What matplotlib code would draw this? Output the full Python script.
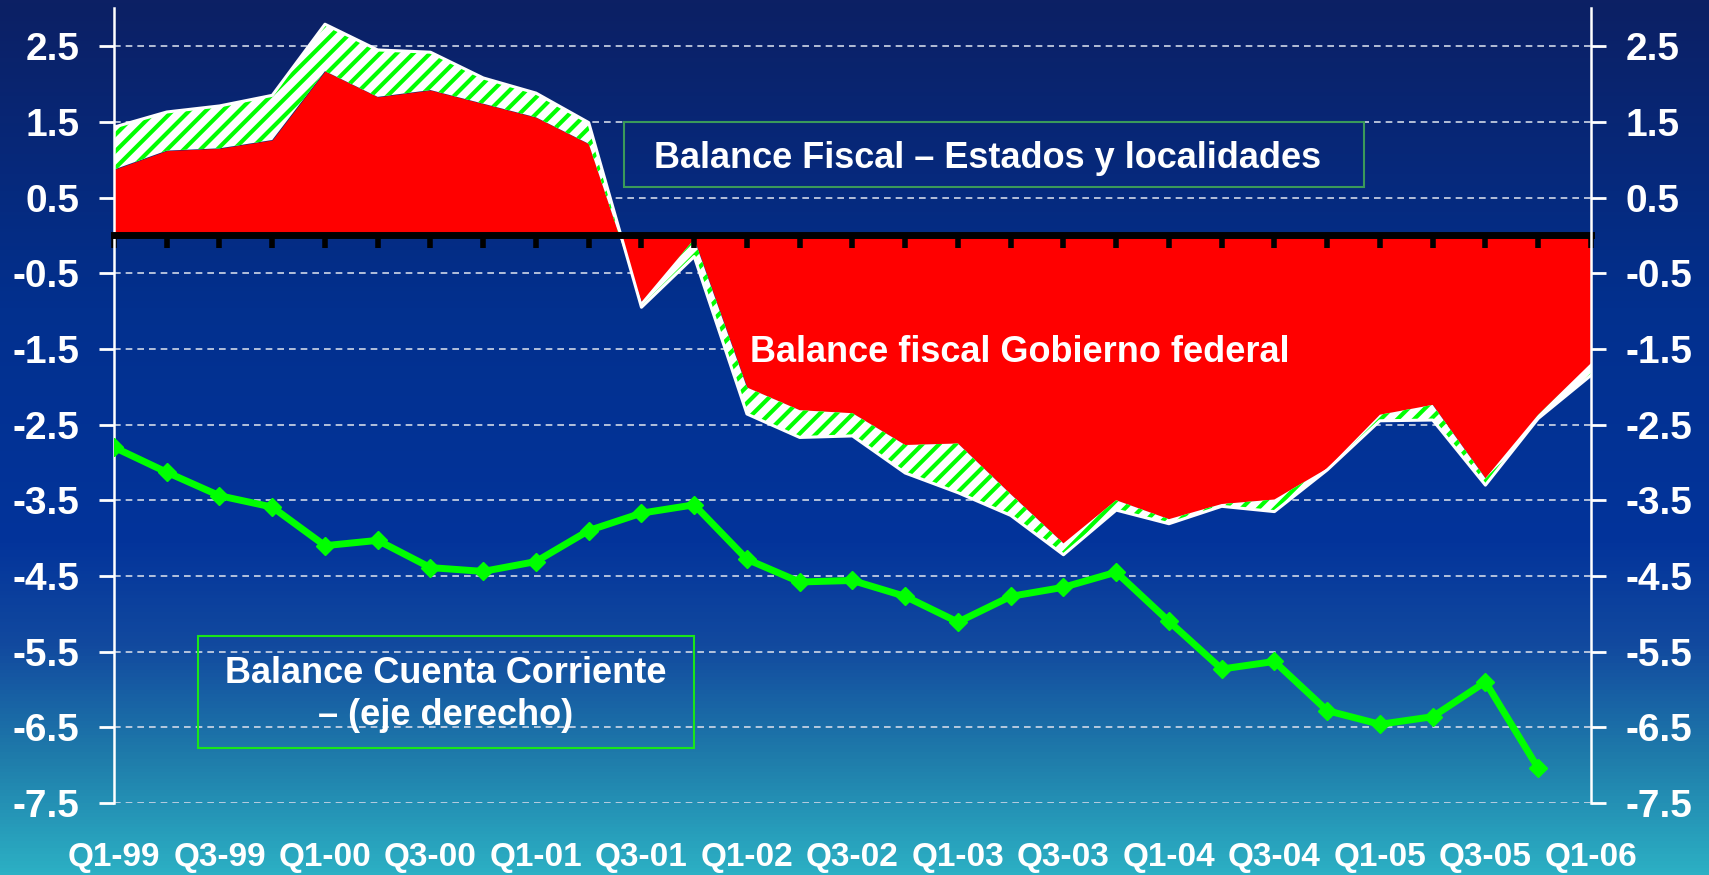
import numpy as np
import matplotlib
matplotlib.use("Agg")
import matplotlib.pyplot as plt
from matplotlib.colors import LinearSegmentedColormap
from matplotlib.patches import Rectangle

plt.rcParams['font.family'] = ['Liberation Sans', 'DejaVu Sans']
plt.rcParams['font.weight'] = 'bold'
plt.rcParams['hatch.linewidth'] = 3.0

# quarters Q1-99 .. Q1-06
n_quarters = 29
x_labels = ['Q1-99', 'Q3-99', 'Q1-00', 'Q3-00', 'Q1-01', 'Q3-01', 'Q1-02', 'Q3-02',
            'Q1-03', 'Q3-03', 'Q1-04', 'Q3-04', 'Q1-05', 'Q3-05', 'Q1-06']

# federal government fiscal balance (% of GDP)
federal = [0.87, 1.12, 1.15, 1.26, 2.17, 1.83, 1.92, 1.74, 1.56, 1.21,
           -0.88, -0.05, -2.01, -2.31, -2.35, -2.77, -2.75, -3.42, -4.07, -3.50,
           -3.75, -3.55, -3.49, -3.08, -2.37, -2.24, -3.21, -2.37, -1.69]

# states and localities fiscal balance (stacked on federal)
states = [0.56, 0.51, 0.56, 0.59, 0.62, 0.62, 0.50, 0.34, 0.32, 0.28,
          -0.07, -0.23, -0.35, -0.36, -0.30, -0.37, -0.65, -0.28, -0.15, -0.13,
          -0.06, -0.03, -0.16, -0.02, -0.08, -0.20, -0.09, -0.05, -0.16]

# current account balance (right axis), Q1-99 .. Q4-05
current_account = [-2.80, -3.13, -3.44, -3.59, -4.10, -4.03, -4.39, -4.44, -4.31, -3.90,
                   -3.67, -3.56, -4.28, -4.58, -4.56, -4.77, -5.11, -4.77, -4.65, -4.45,
                   -5.10, -5.73, -5.63, -6.28, -6.46, -6.36, -5.90, -7.04]

y_ticks = [2.5, 1.5, 0.5, -0.5, -1.5, -2.5, -3.5, -4.5, -5.5, -6.5, -7.5]
y_tick_labels = ['2.5', '1.5', '0.5', '-0.5', '-1.5', '-2.5', '-3.5', '-4.5',
                 '-5.5', '-6.5', '-7.5']

x = np.arange(n_quarters)
fed = np.array(federal)
total = fed + np.array(states)

fig = plt.figure(figsize=(17.09, 8.75), dpi=100)

# gradient background
bg = fig.add_axes([0, 0, 1, 1], zorder=-10)
cmap = LinearSegmentedColormap.from_list('bg', [
    (0.0, '#0c2064'), (0.35, '#02308e'), (0.62, '#03349b'),
    (0.74, '#124a9f'), (0.87, '#1f7dab'), (1.0, '#2cb0c4')])
grad = np.linspace(0, 1, 256).reshape(-1, 1)
bg.imshow(grad, cmap=cmap, aspect='auto', extent=[0, 1, 0, 1])
bg.axis('off')

ax = fig.add_axes([0.0667, 0.0823, 0.8642, 0.9082])
ax.set_facecolor('none')
ax.set_xlim(0, n_quarters - 1)
ax.set_ylim(-7.5, 3.0)

# dashed gridlines kept underneath the areas
for yv in y_ticks:
    ax.axhline(yv, ls=(0, (4, 3)), color='#d0d8e8', lw=1.2, zorder=0.5)

ax.fill_between(x, 0, fed, color='#ff0000', lw=0, interpolate=True, zorder=1)
ax.fill_between(x, fed, total, facecolor='white', edgecolor='#00ff00',
                hatch='//', lw=0, zorder=1)
ax.plot(x, total, color='white', lw=2.2, zorder=1.2)

ax.set_yticks(y_ticks, y_tick_labels)
ax.tick_params(axis='y', colors='white', labelsize=28, length=11, width=2, pad=14)

# zero line with quarter ticks
ax.spines['bottom'].set_position(('data', 0))
ax.spines['bottom'].set_color('black')
ax.spines['bottom'].set_linewidth(5)
ax.set_xticks(x)
ax.tick_params(axis='x', direction='out', length=9, width=4, color='black',
               labelbottom=False)
ax.spines['top'].set_visible(False)
ax.spines['right'].set_visible(False)
ax.spines['left'].set_color('white')
ax.spines['left'].set_linewidth(1.8)

sec = ax.secondary_xaxis('bottom')
sec.set_xticks(np.arange(0, n_quarters, 2), x_labels)
sec.tick_params(length=0, pad=28, labelcolor='white', labelsize=24)
sec.spines['bottom'].set_visible(False)

# right axis carries the current account
ax2 = ax.twinx()
ax2.set_ylim(-7.5, 3.0)
ax2.set_yticks(y_ticks, y_tick_labels)
ax2.tick_params(axis='y', colors='white', labelsize=28, length=11, width=2, pad=14)
for s in ['top', 'bottom', 'left']:
    ax2.spines[s].set_visible(False)
ax2.spines['right'].set_color('white')
ax2.spines['right'].set_linewidth(1.8)
ax2.plot(np.arange(len(current_account)), current_account, color='#00ff00', lw=5,
         marker='D', ms=9, solid_joinstyle='round', zorder=5)

# annotations
ax.add_patch(Rectangle((9.67, 0.637), 14.03, 0.859, fill=False,
                       edgecolor='#3a9a5a', lw=1.5, zorder=3))
ax.text(16.57, 1.02, 'Balance Fiscal – Estados y localidades', color='white',
        fontsize=26, ha='center', va='center', zorder=4)

ax.text(17.18, -1.55, 'Balance fiscal Gobierno federal', color='white',
        fontsize=26, ha='center', va='center', zorder=4)

ax.add_patch(Rectangle((1.59, -6.78), 9.41, 1.48, fill=False,
                       edgecolor='#19e619', lw=1.5, zorder=3))
ax.text(6.29, -6.07, 'Balance Cuenta Corriente\n– (eje derecho)', color='white',
        fontsize=26, ha='center', va='center', linespacing=1.25, zorder=4)

fig.savefig('out.png', dpi=100)
